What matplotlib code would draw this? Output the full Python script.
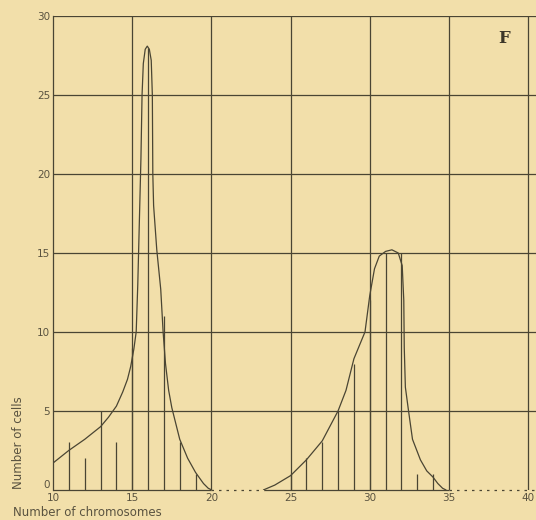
"""Distribuição do número de cromossomos por célula (painel F)."""

import matplotlib.pyplot as plt
import numpy as np

# contagens por número de cromossomos (barras verticais)
chrom_counts = [11, 12, 13, 14, 15, 16, 17, 18, 19, 25, 26, 27, 28, 29, 30, 31, 32, 33, 34]
cell_counts = [3, 2, 5, 3, 9, 28, 11, 3, 1, 1, 2, 3, 5, 8, 12, 15, 15, 1, 1]

# curva ajustada, primeiro pico
curve1_x = [10, 11, 12, 13, 13.5, 14, 14.4, 14.7, 14.9, 15.1, 15.25, 15.35, 15.45,
            15.55, 15.62, 15.7, 15.82, 15.95, 16.08, 16.2, 16.27, 16.3, 16.35, 16.55,
            16.8, 16.95, 17.1, 17.3, 17.5, 18, 18.5, 19, 19.5, 19.8, 20]
curve1_y = [1.7, 2.5, 3.2, 4.0, 4.6, 5.3, 6.2, 7.0, 7.8, 8.9, 10, 13, 17,
            21, 25, 27, 27.9, 28.1, 27.9, 27.2, 25, 20, 18, 15.2,
            12.7, 10, 8, 6.3, 5.2, 3.2, 2.0, 1.1, 0.4, 0.1, 0]

# curva ajustada, segundo pico
curve2_x = [23.3, 24, 25, 26, 27, 28, 28.5, 29, 29.7, 30, 30.3, 30.6, 31, 31.4,
            31.8, 32.05, 32.15, 32.18, 32.25, 32.45, 32.7, 33.2, 33.6, 34, 34.3, 34.6, 34.8]
curve2_y = [0, 0.3, 0.9, 1.9, 3.1, 5.0, 6.3, 8.3, 10, 12.3, 14.0, 14.8, 15.1, 15.2,
            15.0, 14.2, 12, 9, 6.5, 5.0, 3.2, 1.9, 1.2, 0.8, 0.4, 0.1, 0]

x_ticks = [10, 15, 20, 25, 30, 35, 40]
y_ticks = [0, 5, 10, 15, 20, 25, 30]

# trechos da linha de base: sólidos e pontilhados
solid_base = [(10, 20), (23.3, 35)]
dotted_base = [(20, 23.3), (35, 40.5)]

bg = "#f2dfaa"
ink = "#4a4533"
label_ink = "#5a5340"

fig = plt.figure(figsize=(5.36, 5.2), dpi=100, facecolor=bg)
ax = fig.add_axes([0.099, 0.058, 0.901, 0.911], facecolor=bg)

ax.set_xlim(10, 40.5)
ax.set_ylim(0, 30)

for xv in x_ticks[1:]:
    ax.axvline(xv, color=ink, lw=0.9, zorder=1)
for yv in y_ticks[1:]:
    ax.axhline(yv, color=ink, lw=0.9, zorder=1)

for spine in ["right", "top", "bottom"]:
    ax.spines[spine].set_visible(False)
ax.spines["left"].set_color(ink)
ax.spines["left"].set_linewidth(0.9)

for a, b in solid_base:
    ax.plot([a, b], [0, 0], color=ink, lw=0.9, solid_capstyle="butt", clip_on=False)
for a, b in dotted_base:
    ax.plot([a, b], [0, 0], color=ink, lw=0.9, ls=(0, (2, 4)), clip_on=False)

ax.vlines(chrom_counts, 0, cell_counts, color=ink, lw=0.9, zorder=2)
ax.plot(curve1_x, curve1_y, color=ink, lw=0.9, zorder=3)
ax.plot(curve2_x, curve2_y, color=ink, lw=0.9, zorder=3)

ax.set_xticks(x_ticks)
ax.set_yticks(y_ticks)
ax.set_xticklabels([str(v) for v in x_ticks], fontsize=7.5, color=label_ink)
ax.set_yticklabels([str(v) for v in y_ticks], fontsize=7.5, color=label_ink)
ax.tick_params(length=0, pad=2)
ax.get_yticklabels()[0].set_va("bottom")

ax.text(38.5, 28.6, "F", fontsize=12, fontweight="bold", family="DejaVu Serif",
        color="#3c3628", ha="center", va="center")

fig.text(0.022, 0.06, "Number of cells", rotation=90, fontsize=8.5,
         color=label_ink, ha="left", va="bottom")
fig.text(0.024, 0.002, "Number of chromosomes", fontsize=8.5,
         color=label_ink, ha="left", va="bottom")

fig.savefig("out.png", dpi=100, facecolor=bg)
